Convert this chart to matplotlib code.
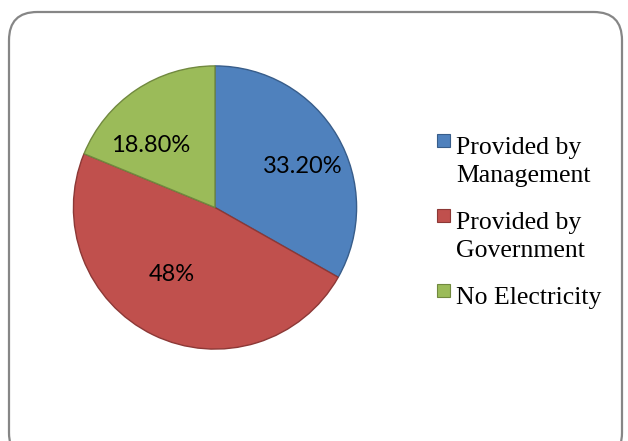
import matplotlib.pyplot as plt
from matplotlib.patches import FancyBboxPatch, Rectangle

# dati del grafico
categorie = ['Provided by\nManagement', 'Provided by\nGovernment', 'No Electricity']
valori = [33.2, 48.0, 18.8]
etichette = ['33.20%', '48%', '18.80%']

colori = ['#4F81BD', '#C0504D', '#9BBB59']
bordi = ['#385D8A', '#8C3836', '#71893F']

W, H = 628, 441
fig = plt.figure(figsize=(W / 100, H / 100), dpi=100)

# cornice arrotondata
frame = FancyBboxPatch((9 / W, -20 / H), 613 / W, (H - 12 + 20) / H,
                       boxstyle='round,pad=0,rounding_size=0.045',
                       transform=fig.transFigure, facecolor='none',
                       edgecolor='#868686', linewidth=1.6, mutation_aspect=W / H,
                       zorder=5)
fig.patches.append(frame)

# torta
cx, cy, r = 215, 441 - 207.5, 143
ax = fig.add_axes([(cx - r) / W, (cy - r) / H, 2 * r / W, 2 * r / H])
wedges, texts = ax.pie(valori, labels=etichette, colors=colori, startangle=90,
                       counterclock=False, labeldistance=0.6,
                       wedgeprops=dict(linewidth=1.0),
                       textprops=dict(fontsize=17, family='Lato'))
for w, b in zip(wedges, bordi):
    w.set_edgecolor(b)

# posizioni delle etichette come nel riferimento
pos = [(0.619, 0.29), (-0.308, -0.47), (-0.455, 0.44)]
for t, p in zip(texts, pos):
    t.set_position(p)
    t.set_ha('center')
    t.set_va('center')

ax.set_xlim(-1.01, 1.01)
ax.set_ylim(-1.01, 1.01)
ax.axis('off')

# legenda a mano (quadratino allineato alla prima riga)
ycen = [140, 215, 290]
for lab, col, bd, y in zip(categorie, colori, bordi, ycen):
    sq = 13
    fig.patches.append(Rectangle((437 / W, (H - y - sq / 2) / H), sq / W, sq / H,
                                 transform=fig.transFigure, facecolor=col,
                                 edgecolor=bd, linewidth=0.8))
    fig.text(456 / W, (H - y + 3) / H, lab, fontsize=18.5, family='Liberation Serif',
             va='top', ha='left', linespacing=1.38)

fig.savefig('out.png', dpi=100)
